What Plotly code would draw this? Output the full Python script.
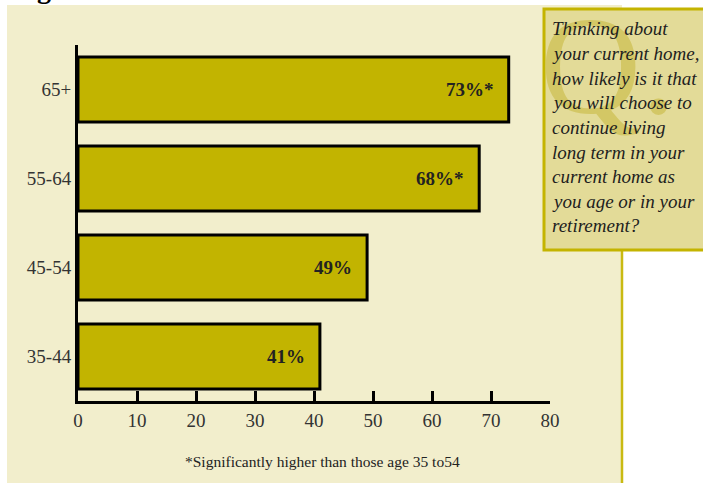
import plotly.graph_objects as go

categories = ["35-44", "45-54", "55-64", "65+"]
values = [41, 49, 68, 73]
value_labels = ["41%", "49%", "68%*", "73%*"]
x_ticks = [0, 10, 20, 30, 40, 50, 60, 70, 80]
question_lines = [
    "Thinking about",
    "your current home,",
    "how likely is it that",
    "you will choose to",
    "continue living",
    "long term in your",
    "current home as",
    "you age or in your",
    "retirement?",
]
footnote = "*Significantly higher than those age 35 to54"

W, H = 703, 483
L, R, T, B = 78, 550, 45, 401


def px(x):
    return (x - L) / (R - L)


def py(y):
    return (B - y) / (B - T)


SERIF = "Liberation Serif, Times New Roman, serif"
BAR = "#C2B400"
CREAM = "#F2EECC"

fig = go.Figure()
fig.add_trace(go.Bar(
    y=categories, x=values, orientation="h",
    marker=dict(color=BAR, line=dict(color="black", width=3)),
    width=0.73, hoverinfo="skip",
))

annotations = []

# watermark "Q." behind the question text
annotations.append(dict(
    x=px(538), y=py(145), xref="paper", yref="paper", text="Q.",
    showarrow=False, xanchor="left", yanchor="bottom",
    font=dict(family=SERIF, size=140, color="#D3C765"),
))

for c, v, t in zip(categories, values, value_labels):
    annotations.append(dict(
        x=v, y=c, xref="x", yref="y", text=t, showarrow=False,
        xanchor="right", xshift=-13,
        font=dict(family=SERIF, size=19, color="#222", weight="bold"),
    ))

annotations.append(dict(
    x=px(322), y=py(461), xref="paper", yref="paper", text=footnote,
    showarrow=False, xanchor="center", yanchor="middle",
    font=dict(family=SERIF, size=15.5, color="#222"),
))

for i, line in enumerate(question_lines):
    annotations.append(dict(
        x=px(550), y=py(29 + i * 24.6), xref="paper", yref="paper", text=line,
        showarrow=False, xanchor="left", yanchor="middle",
        font=dict(family=SERIF, size=19, color="#1E1E1E", style="italic"),
    ))

# cut-off title glyph at top
annotations.append(dict(
    x=px(44), y=py(6), xref="paper", yref="paper", text="g",
    showarrow=False, xanchor="center", yanchor="bottom",
    font=dict(family=SERIF, size=28, color="black", weight="bold"),
))

shapes = [
    dict(type="rect", xref="paper", yref="paper", layer="below",
         x0=px(7), x1=px(622), y0=py(5), y1=py(490),
         fillcolor=CREAM, line=dict(width=0)),
    dict(type="line", xref="paper", yref="paper", layer="below",
         x0=px(622), x1=px(622), y0=py(250), y1=py(490),
         line=dict(color="#C9BA12", width=2.5)),
    dict(type="rect", xref="paper", yref="paper", layer="below",
         x0=px(544), x1=px(720), y0=py(9), y1=py(250),
         fillcolor="#E3DB98", line=dict(color="#C4B400", width=3)),
]

fig.update_layout(
    width=W, height=H,
    margin=dict(l=L, r=W - R, t=T, b=H - B),
    paper_bgcolor="white", plot_bgcolor="rgba(0,0,0,0)",
    showlegend=False, bargap=0.27,
    annotations=annotations, shapes=shapes,
    font=dict(family=SERIF, size=18, color="#333"),
    xaxis=dict(
        range=[0, 80], tickvals=x_ticks, showgrid=False, zeroline=False,
        showline=True, linecolor="black", linewidth=3,
        ticks="inside", ticklen=10, tickwidth=3, tickcolor="black",
        tickfont=dict(family=SERIF, size=19, color="#333"),
        fixedrange=True,
    ),
    yaxis=dict(
        range=[-0.5, 3.5], showgrid=False, zeroline=False,
        showline=True, linecolor="black", linewidth=3, ticks="",
        tickfont=dict(family=SERIF, size=19, color="#333"),
        ticklabelstandoff=0, fixedrange=True,
    ),
)

fig.write_html("out.html")
